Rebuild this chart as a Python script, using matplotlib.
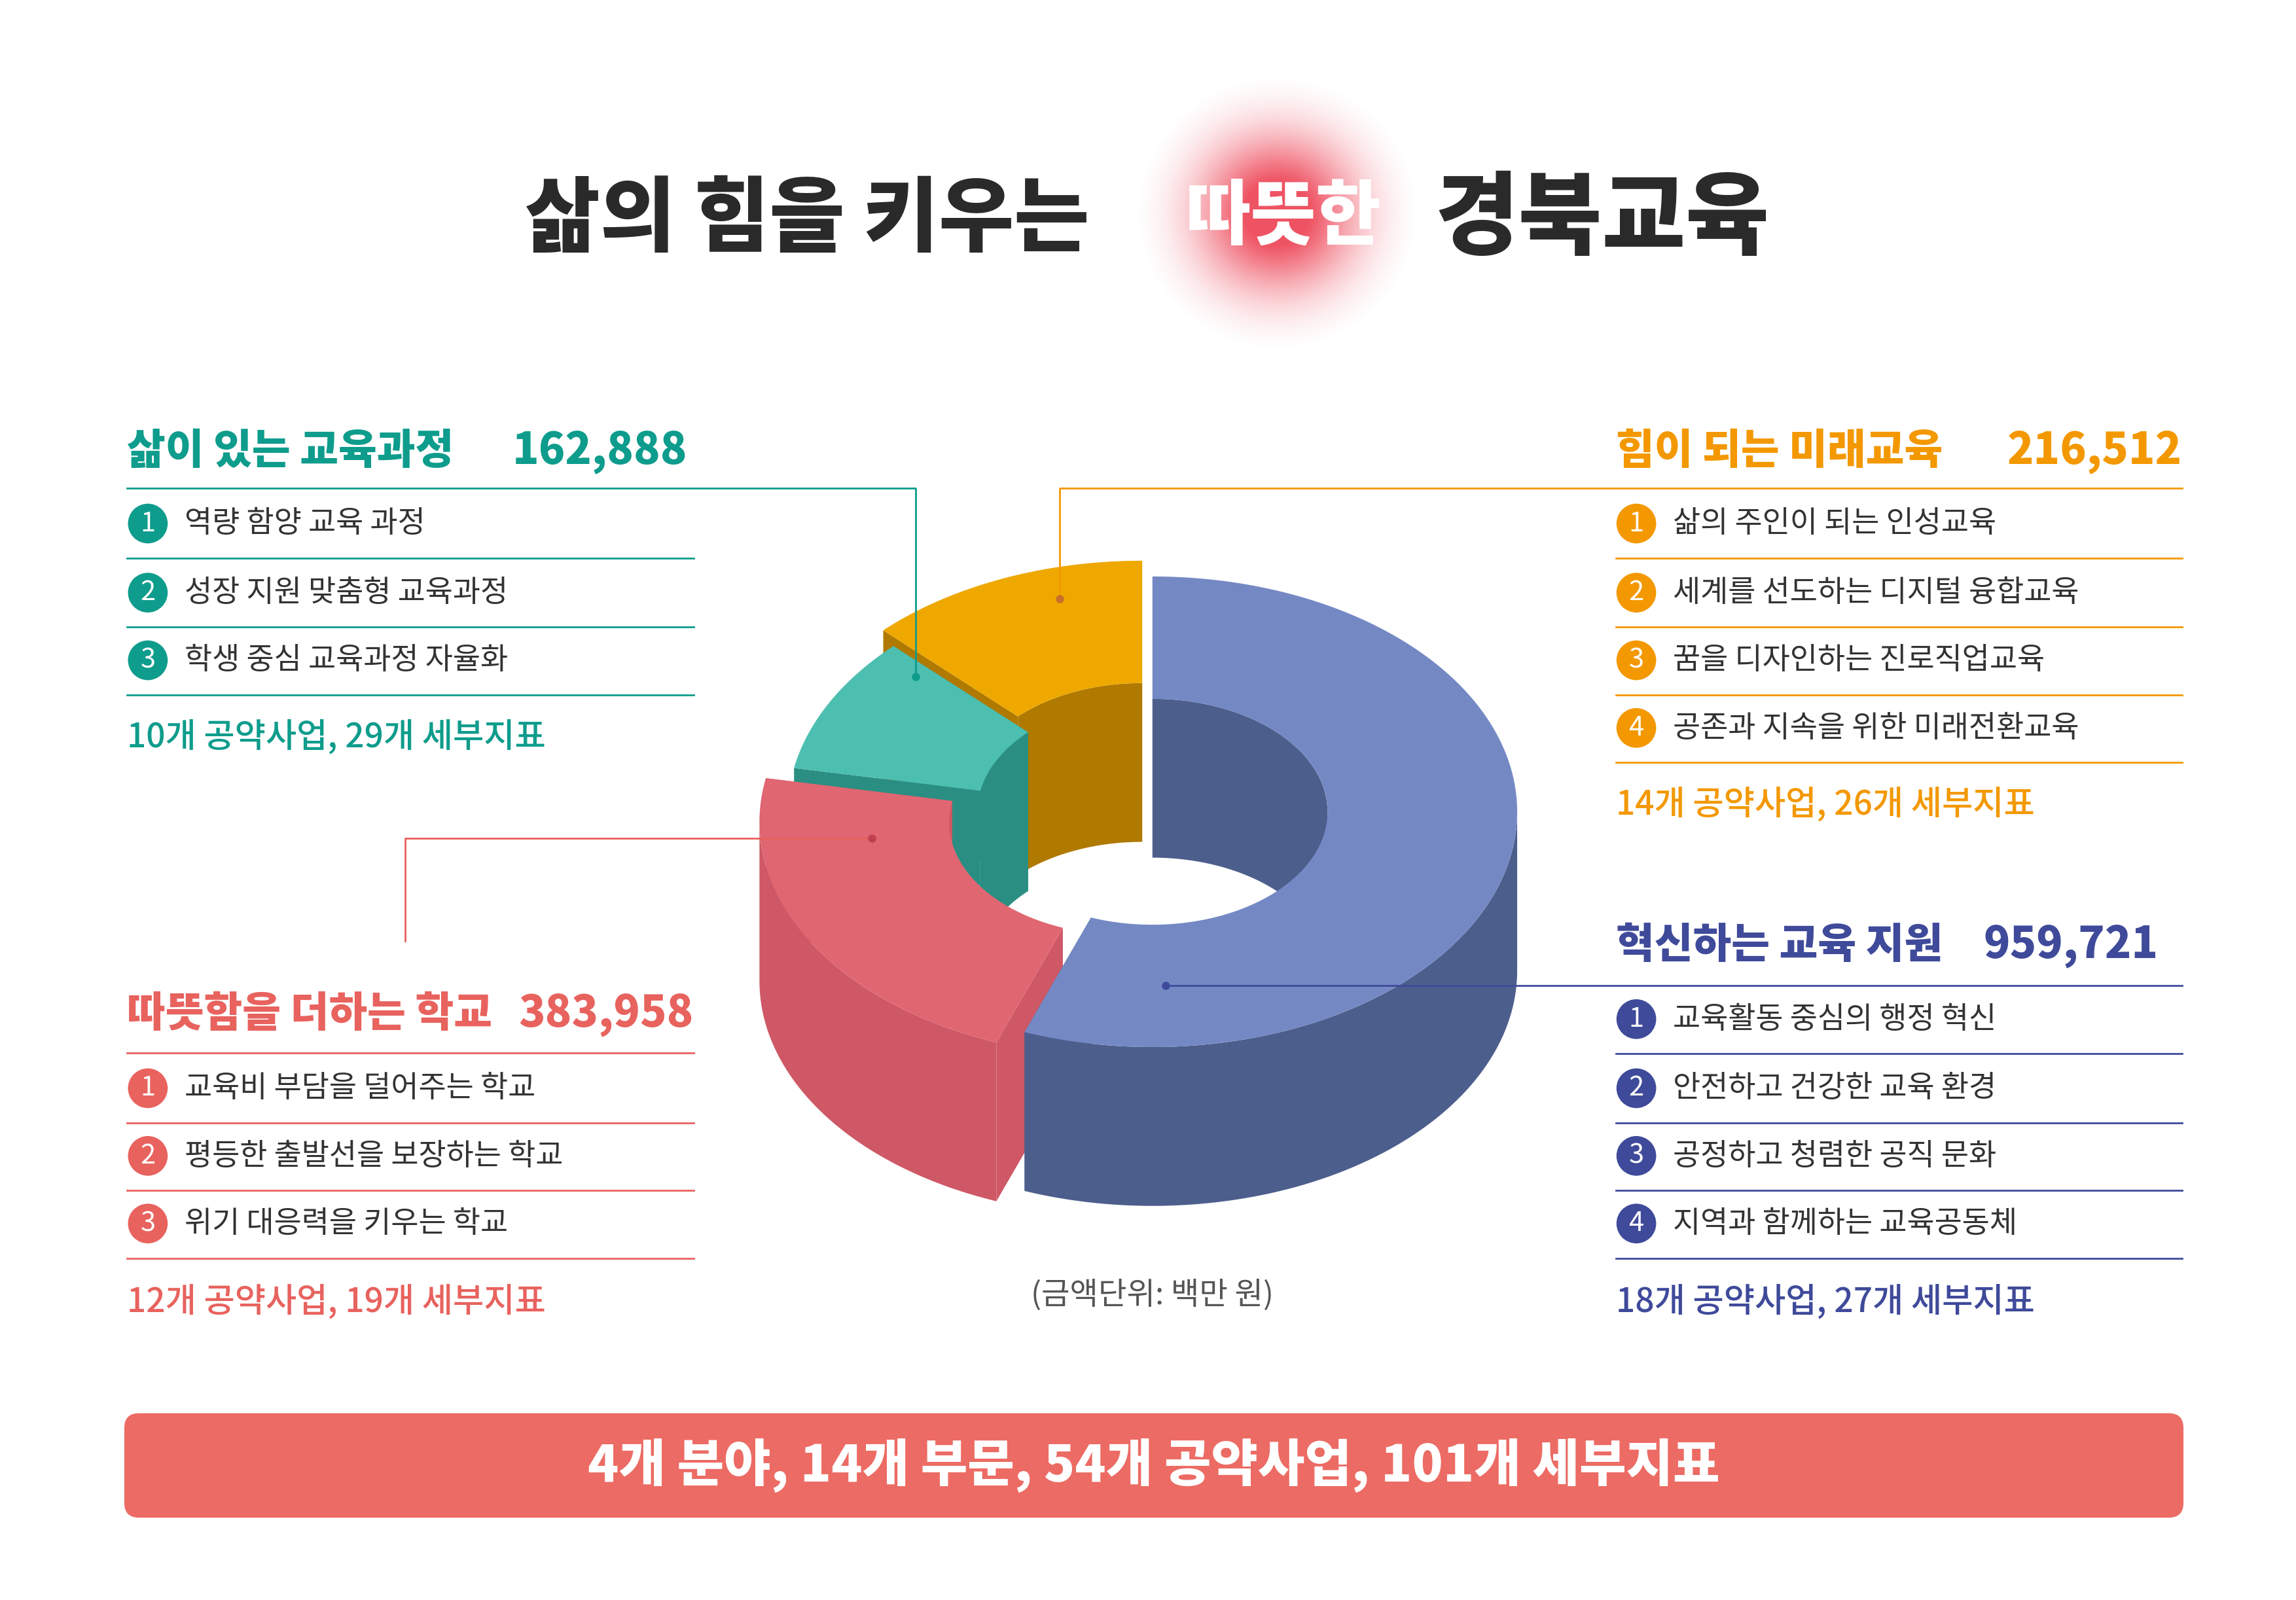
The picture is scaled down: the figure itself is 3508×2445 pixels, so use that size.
import numpy as np
import matplotlib
matplotlib.use('Agg')
import matplotlib.pyplot as plt
from matplotlib.patches import Polygon, FancyBboxPatch, Circle

plt.rcParams['font.family'] = ["Noto Sans CJK JP", "Noto Sans CJK KR", "DejaVu Sans"]

# 데이터
names = ["혁신하는 교육 지원", "따뜻함을 더하는 학교", "삶이 있는 교육과정", "힘이 되는 미래교육"]
amounts = [959721, 383958, 162888, 216512]
top_colors = ["#7489C4", "#E06672", "#4DBFB0", "#EEA800"]
side_colors = ["#4C5E8C", "#CF5866", "#2A8F82", "#B07A00"]
explode = [0, 22, 0, 18]

items_teal = ["역량 함양 교육 과정", "성장 지원 맞춤형 교육과정", "학생 중심 교육과정 자율화"]
items_orange = ["삶의 주인이 되는 인성교육", "세계를 선도하는 디지털 융합교육", "꿈을 디자인하는 진로직업교육", "공존과 지속을 위한 미래전환교육"]
items_red = ["교육비 부담을 덜어주는 학교", "평등한 출발선을 보장하는 학교", "위기 대응력을 키우는 학교"]
items_blue = ["교육활동 중심의 행정 혁신", "안전하고 건강한 교육 환경", "공정하고 청렴한 공직 문화", "지역과 함께하는 교육공동체"]
summary = ["18개 공약사업, 27개 세부지표", "12개 공약사업, 19개 세부지표", "10개 공약사업, 29개 세부지표", "14개 공약사업, 26개 세부지표"]

fig = plt.figure(figsize=(35.08, 24.45), dpi=100)
ax = fig.add_axes([0, 0, 1, 1])
ax.set_xlim(0, 1560)
ax.set_ylim(1088, 0)
ax.axis('off')

# 도넛 (3D 느낌)
cx, cy, rx, ry, depth, rin = 783, 552, 248, 160, 108, 0.48


def pt(r, th, z, off):
    return (cx + off[0] + r * rx * np.cos(th), cy + off[1] - r * ry * np.sin(th) + z * depth)


def runs(th, mask):
    out, cur = [], []
    for t, m in zip(th, mask):
        if m:
            cur.append(t)
        elif cur:
            out.append(cur); cur = []
    if cur:
        out.append(cur)
    return [r for r in out if len(r) > 1]


def wall(r, seg, off, color):
    poly = [pt(r, t, 0, off) for t in seg] + [pt(r, t, 1, off) for t in seg[::-1]]
    ax.add_patch(Polygon(poly, closed=True, fc=color, ec='none', zorder=2))


total = sum(amounts)
start = np.pi / 2
slices = []
for i, v in enumerate(amounts):
    span = 2 * np.pi * v / total
    a0, a1 = start - span, start
    mid = (a0 + a1) / 2
    off = (explode[i] * np.cos(mid), -explode[i] * np.sin(mid) * ry / rx)
    slices.append((i, a0, a1, off))
    start = a0

for i, a0, a1, off in [slices[k] for k in [3, 2, 1, 0]]:
    th = np.linspace(a0, a1, 400)
    sc, tc = side_colors[i], top_colors[i]
    # 안쪽 벽 (뒤쪽만 보임)
    for seg in runs(th, np.sin(th) > 0):
        wall(rin, seg, off, sc)
    # 단면
    for a in (a0, a1):
        poly = [pt(rin, a, 0, off), pt(1, a, 0, off), pt(1, a, 1, off), pt(rin, a, 1, off)]
        ax.add_patch(Polygon(poly, closed=True, fc=sc, ec='none', zorder=2))
    # 바깥 벽 (앞쪽만 보임)
    for seg in runs(th, np.sin(th) < 0):
        wall(1, seg, off, sc)
    top = [pt(1, t, 0, off) for t in th] + [pt(rin, t, 0, off) for t in th[::-1]]
    ax.add_patch(Polygon(top, closed=True, fc=tc, ec='none', zorder=2))

# 제목
yy, xx = np.mgrid[-1:1:200j, -1:1:200j]
blob = np.clip(1.25 * np.exp(-(xx ** 2 + yy ** 2) / 0.3) - 0.05, 0, 1)
rgba = np.zeros((200, 200, 4))
rgba[..., 0], rgba[..., 1], rgba[..., 2] = 0.93, 0.25, 0.32
rgba[..., 3] = blob * 0.9
ax.imshow(rgba, extent=(770, 965, 240, 50), zorder=1)
ax.text(740, 150, "삶의 힘을 키우는", fontsize=90, fontweight='black', color='#2a2a2a', ha='right', va='center', zorder=3)
ax.text(872, 148, "따뜻한", fontsize=78, fontweight='black', color='white', ha='center', va='center', zorder=3)
ax.text(975, 150, "경북교육", fontsize=100, fontweight='black', color='#2a2a2a', ha='left', va='center', zorder=3)


def block(x0, x1, ytitle, title, amount, color, items, ytems, summ, ysum, amt_x=None):
    ax.text(x0, ytitle, title, fontsize=46, fontweight='black', color=color, va='center', zorder=3)
    if amt_x is None:
        ax.text(x1, ytitle, f"{amount:,}", fontsize=48, fontweight='black', color=color, va='center', ha='right', zorder=3)
    else:
        ax.text(amt_x, ytitle, f"{amount:,}", fontsize=48, fontweight='black', color=color, va='center', zorder=3)
    for k, (t, y) in enumerate(zip(items, ytems)):
        ax.add_patch(Circle((x0 + 14, y), 13.5, fc=color, ec='none', zorder=3))
        ax.text(x0 + 14, y, str(k + 1), fontsize=30, color='white', ha='center', va='center', zorder=4)
        ax.text(x0 + 39, y, t, fontsize=33, color='#333333', va='center', zorder=3)
        ax.plot([x0, x1], [y + 23.5, y + 23.5], color=color, lw=2, zorder=3)
    ax.text(x0, ysum, summ, fontsize=37, fontweight='medium', color=color, va='center', zorder=3)


teal, orange, red, blue = "#0E9C8C", "#F39800", "#E8625E", "#3F4A9A"
block(86, 471, 307, names[2], amounts[2], teal, items_teal, [356, 403, 449], summary[2], 501, amt_x=348)
block(1098, 1483, 307, names[3], amounts[3], orange, items_orange, [356, 403, 449, 495], summary[3], 547)
block(86, 471, 690, names[1], amounts[1], red, items_red, [740, 786, 832], summary[1], 885)
block(1098, 1483, 643, names[0], amounts[0], blue, items_blue, [693, 740, 786, 832], summary[0], 885, amt_x=1348)

# 헤더 밑줄 및 지시선
ax.plot([86, 622, 622], [332, 332, 460], color=teal, lw=2, zorder=5)
ax.plot(622, 460, 'o', color=teal, ms=8, zorder=5)
ax.plot([1483, 720, 720], [332, 332, 407], color=orange, lw=2, zorder=5)
ax.plot(720, 407, 'o', color='#C8702A', ms=8, zorder=5)
ax.plot([86, 471], [716, 716], color=red, lw=2, zorder=5)
ax.plot([275, 275, 592], [640, 570, 570], color=red, lw=2, zorder=5)
ax.plot(592, 570, 'o', color='#C04050', ms=8, zorder=5)
ax.plot([1483, 792], [670, 670], color=blue, lw=2, zorder=5)
ax.plot(792, 670, 'o', color=blue, ms=8, zorder=5)

ax.text(783, 881, "(금액단위: 백만 원)", fontsize=34, color='#555555', ha='center', va='center')

# 하단 배너
ax.add_patch(FancyBboxPatch((84, 961), 1400, 71, boxstyle="round,pad=0,rounding_size=10", fc='#EC6B64', ec='none'))
ax.text(784, 997, "4개 분야, 14개 부문, 54개 공약사업, 101개 세부지표", fontsize=56, fontweight='black',
        color='white', ha='center', va='center')

fig.savefig("out.png", dpi=100, facecolor='white')
